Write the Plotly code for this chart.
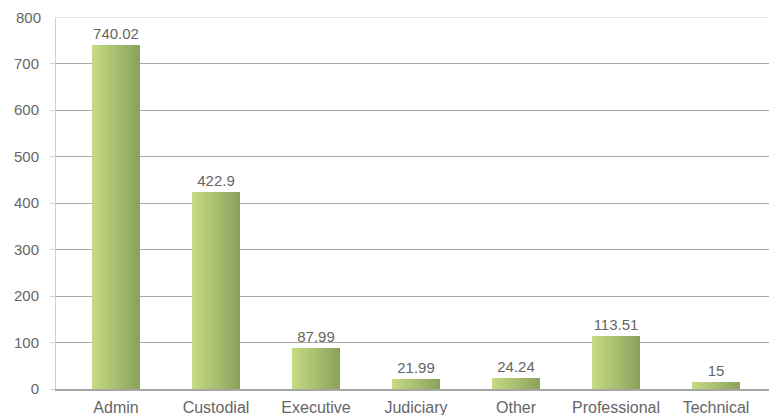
import plotly.graph_objects as go

# Headcount (FTE) by job category
categories = ["Admin", "Custodial", "Executive", "Judiciary", "Other", "Professional", "Technical"]
values = [740.02, 422.9, 87.99, 21.99, 24.24, 113.51, 15]
value_labels = ["740.02", "422.9", "87.99", "21.99", "24.24", "113.51", "15"]
y_ticks = [0, 100, 200, 300, 400, 500, 600, 700, 800]

BAR_WIDTH = 0.48
SLICES = 16
LIGHT = (197, 217, 130)
DARK = (139, 163, 92)
FONT = "Liberation Sans, Arial, sans-serif"
GREY_TEXT = "#666666"


def mix(a, b, t):
    return "rgb({},{},{})".format(*[round(a[i] + (b[i] - a[i]) * t) for i in range(3)])


fig = go.Figure()

# Horizontal light-to-dark gradient built from thin overlaid bar slices
step = BAR_WIDTH / SLICES
for i in range(SLICES):
    fig.add_trace(go.Bar(
        x=list(range(len(categories))),
        y=values,
        width=step * 1.05,
        offset=-BAR_WIDTH / 2 + i * step,
        marker=dict(color=mix(LIGHT, DARK, i / (SLICES - 1)), line=dict(width=0)),
        hoverinfo="skip",
        showlegend=False,
    ))

# Value labels above each bar
fig.add_trace(go.Bar(
    x=list(range(len(categories))),
    y=values,
    width=BAR_WIDTH,
    marker=dict(color="rgba(0,0,0,0)", line=dict(width=0)),
    text=value_labels,
    textposition="outside",
    textfont=dict(family=FONT, size=15, color=GREY_TEXT),
    cliponaxis=False,
    showlegend=False,
    hovertemplate="%{customdata}: %{y}<extra></extra>",
    customdata=categories,
))

# Lighter top gridline at the axis maximum
fig.add_shape(type="line", xref="paper", yref="y", x0=0, x1=1, y0=y_ticks[-1], y1=y_ticks[-1],
              line=dict(color="#dcdcdc", width=1.5), layer="below")

fig.update_layout(
    width=769, height=415,
    margin=dict(l=56, r=0, t=17, b=26),
    paper_bgcolor="white",
    plot_bgcolor="white",
    barmode="overlay",
    bargap=0,
    font=dict(family=FONT, size=15, color=GREY_TEXT),
    xaxis=dict(
        range=[-0.6, 6.53],
        tickmode="array",
        tickvals=list(range(len(categories))),
        ticktext=categories,
        showgrid=False,
        showline=True,
        linecolor="#a6a6a6",
        linewidth=1.5,
        ticks="outside",
        ticklen=3,
        tickcolor="rgba(0,0,0,0)",
        zeroline=False,
        tickfont=dict(family=FONT, size=16, color=GREY_TEXT),
    ),
    yaxis=dict(
        range=[0, 800],
        tickmode="array",
        tickvals=y_ticks[:-1],
        ticktext=[str(v) for v in y_ticks[:-1]],
        showgrid=True,
        gridcolor="#a8a8a8",
        gridwidth=1.3,
        zeroline=False,
        showline=True,
        linecolor="#cfcfcf",
        linewidth=1,
        ticks="outside",
        ticklen=5,
        tickcolor="#cfcfcf",
        ticklabelstandoff=8,
        tickfont=dict(family=FONT, size=15, color=GREY_TEXT),
    ),
)

# Top tick label drawn alongside the light gridline
fig.add_annotation(xref="paper", yref="y", x=0, y=y_ticks[-1], text=str(y_ticks[-1]),
                   showarrow=False, xanchor="right", xshift=-13,
                   font=dict(family=FONT, size=15, color=GREY_TEXT))

fig.write_html("out.html")
